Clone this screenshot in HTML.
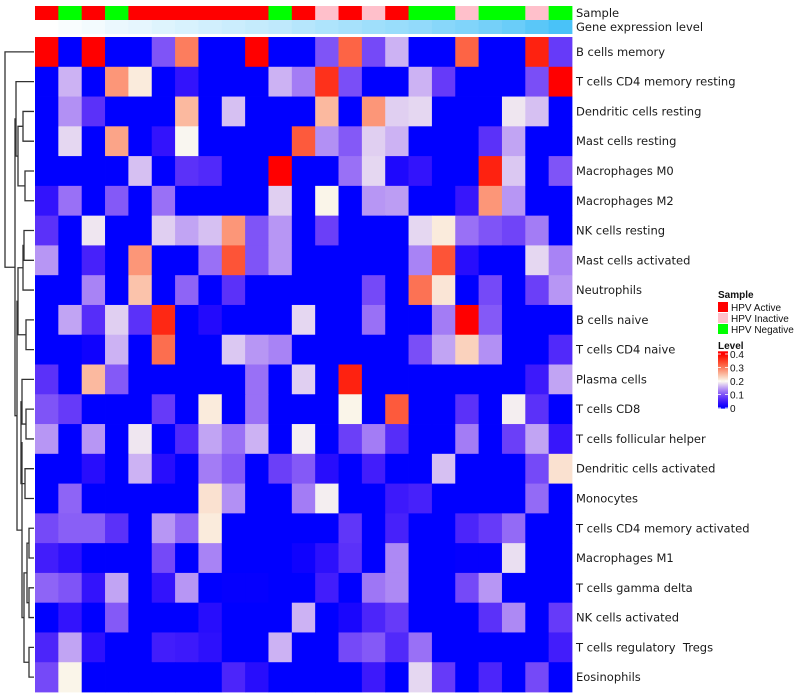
<!DOCTYPE html>
<html><head><meta charset="utf-8"><style>
body{margin:0;background:#fff;width:800px;height:700px;overflow:hidden}
svg{display:block}
.lbl{font-family:"DejaVu Sans","Liberation Sans",sans-serif;font-size:11.5px;fill:#1a1a1a;white-space:pre}
.lg{font-family:"Liberation Sans",sans-serif;font-size:10px;fill:#111}
</style></head><body>
<svg id="chart" width="800" height="700" xmlns="http://www.w3.org/2000/svg"></svg>
<script>
const rowNames=["B cells memory","T cells CD4 memory resting","Dendritic cells resting","Mast cells resting","Macrophages M0","Macrophages M2","NK cells resting","Mast cells activated","Neutrophils","B cells naive","T cells CD4 naive","Plasma cells","T cells CD8","T cells follicular helper","Dendritic cells activated","Monocytes","T cells CD4 memory activated","Macrophages M1","T cells gamma delta","NK cells activated","T cells regulatory  Tregs","Eosinophils"];
const sampleGroups=["A","N","A","N","A","A","A","A","A","A","N","A","I","A","I","A","N","N","I","N","N","I","N"];
const geneLevel=[0.0,0.03,0.06,0.1,0.13,0.17,0.2,0.24,0.27,0.3,0.33,0.38,0.42,0.46,0.5,0.53,0.57,0.62,0.66,0.72,0.78,0.86,0.95];
// cell values in units of 0.04 (0 = blue, 5 = white, 10 = red)
const r1=[10,0,10,0,0,2.5,7.5,0,0,10,0,0,2.5,8,2.3,4,0,0,8,0,0,9.3,2];
const r2=[0,4,0,7,5.3,0,1,0,0,0,4,3.2,9,2.4,0,0,4,2,0,0,0,2.4,10];
const r3=[0,3.5,1.8,0,0,0,6.3,0,4.2,0,0,0,6.3,0,7,4.4,4.5,0,0,0,4.7,4.2,0];
const r4=[0,4.5,0,6.7,0,1,4.9,0,0,0,0,8.2,3.5,2.6,4.4,4,0,0,0,1.8,3.8,0,0];
const r5=[0,0,0,0,4.2,0,1.8,1.6,0,0,10,0,0,3,4.5,0.6,1,0,0,9.3,4.3,0,2.5];
const r6=[1,3,0,2.6,0,3,0,0,0,0,4.4,0,5.1,0,3.6,3.7,0,0,1.1,7,3.6,0,0];
const r7=[1.8,0,4.7,0,0,4.4,3.8,4.2,7,2.5,3.6,0,2.1,0,0,0,4.5,5.3,3,2.5,2.2,3.2,0];
const r8=[3.6,0,1.4,0,7,0,0,3,8.3,2.5,3.6,0,0,0,0,0,3.3,8.3,0.8,0,0,4.5,3.3];
const r9=[0,0,3.3,0,6.1,0,2.8,0,1.8,0,0,0,0,0,2.3,0,7.7,5.4,0,2.3,0,2.1,3.6];
const r10=[0,3.8,1.7,4.4,1.8,9.2,0,0.7,0,0,0,4.5,0,0,3,0,0,3.2,10,2.6,0,0,0];
const r11=[0,0,0.3,4,0,7.8,0,0,4.3,3.6,3.3,0,0,0,0,0,2.4,3.8,5.8,3.5,0,0,1.6];
const r12=[1.8,0,6.3,2.6,0,0,0,0,0,3,0,4.4,0,9.3,0,0,0,0,0,0,0,1.2,3.8];
const r13=[2.5,2,0,0,0,2,0,5.3,0,3,0,0,0,5.1,0,8.2,0,0,1.8,0,4.8,1.8,0];
const r14=[3.6,0,3.6,0,4.7,0,1.6,3.8,3,4,0,4.8,0,2.1,3.2,1.7,0,0,3.2,0,2.1,3.8,1.1];
const r15=[0,0,0.8,0,4,0.8,0,3.2,2.6,0,2.1,2.6,0.8,0,1.3,0,0,4.2,0,0,0,2.3,5.5];
const r16=[0,2.8,0,0,0,0,0,5.5,3.5,0,0,3.2,4.8,0,0,1.2,1.4,0,0,0,0,2.9,0];
const r17=[2.3,2.7,2.7,1.8,0,3.6,2.8,5.3,0,0,0,0,0,1.9,0,1.4,0,0,1.5,2,2.9,0,0];
const r18=[1.3,0.9,0,0,0,2.3,0,3.3,0,0,0,0.3,0.9,1.8,0,3.4,0,0,0.1,0.1,4.6,0,0];
const r19=[2.8,2.5,1,3.8,0,1,3.6,0,0.1,0.1,0,0,1.3,0,3.1,3.4,0,0,2.3,3.6,0,0,0];
const r20=[0,1,0,2.6,0,0,0,0.8,0,0,0,4,0,0.5,1.5,2,0,0,0,1.8,3.4,0,2];
const r21=[1.5,3.8,0.9,0,0,1.3,1.2,0.9,0,0,4,0,0,2.3,2.6,1.6,3,0,0,0,0,0,1.3];
const r22=[2.3,5.1,0,0,0,0,0,0,1.5,0.8,0,0,0,0,1.2,0,4.5,2,0,1.5,0,2.3,0];
const values=[r1,r2,r3,r4,r5,r6,r7,r8,r9,r10,r11,r12,r13,r14,r15,r16,r17,r18,r19,r20,r21,r22];
const legendTicks=[0,0.1,0.2,0.3,0.4];
const sampleLegend=[["A","HPV Active"],["I","HPV Inactive"],["N","HPV Negative"]];

const NS="http://www.w3.org/2000/svg",svg=document.getElementById('chart');
function mk(t,a,p){const e=document.createElementNS(NS,t);for(const k in a)e.setAttribute(k,a[k]);(p||svg).appendChild(e);return e;}
const x0=35,x1=572,y0=37,y1=692,nc=23,nr=22,cw=(x1-x0)/nc,ch=(y1-y0)/nr;
const xS=i=>x0+i*cw, yS=j=>y0+j*ch;
function col(n){
  let r,g,b;
  if(n<=5){const t=n/5;r=255*t;g=255*Math.pow(t,1.6);b=255-15*t;}
  else{const t=(n-5)/5;r=255-5*(1-t);g=250*(1-t);b=240*Math.pow(1-t,1.35);}
  return `rgb(${r|0},${g|0},${b|0})`;
}
const sCol={A:"#ff0000",I:"#ffc0cb",N:"#00ff00"};
sampleGroups.forEach((s,i)=>{const e=mk('rect',{x:xS(i),y:6,width:cw+0.4,height:14,fill:sCol[s]});

});
geneLevel.forEach((g,i)=>{const r=255-(255-64)*g,gg=255-(255-191)*g,b=255-(255-248)*g;
const e=mk('rect',{x:xS(i),y:20,width:cw+0.4,height:14,fill:`rgb(${r|0},${gg|0},${b|0})`});

});
let t=mk('text',{x:576,y:17,class:'lbl','font-size':'12.5'});t.textContent="Sample";

t=mk('text',{x:576,y:31,class:'lbl','font-size':'12.5'});t.textContent="Gene expression level";

values.forEach((row,j)=>row.forEach((v,i)=>{
  const e=mk('rect',{x:xS(i),y:yS(j),width:cw+0.4,height:ch+0.4,fill:col(v)});
  
  
}));
rowNames.forEach((n,j)=>{const e=mk('text',{x:576,y:yS(j)+ch/2+4,class:'lbl'});e.textContent=n;
});
const tree=[0,[[1,[[2,3,23],[4,5,25],18],16],[[[[6,7,24],8,23],[9,10,26],18],[[[11,[12,13,26],22],[14,15,25],21],[[[16,17,29],[18,19,29],27],[20,21,29],24],22],17],15],5];
const dg=mk('g',{stroke:'#333','stroke-width':1.3,fill:'none'});

function draw(n){ if(typeof n==='number')return [yS(n)+ch/2,34];
  const a=draw(n[0]),b=draw(n[1]),h=n[2];
  mk('path',{d:`M${a[1]},${a[0]}H${h}V${b[0]}H${b[1]}`},dg);
  return [(a[0]+b[0])/2,h];}
draw(tree);
t=mk('text',{x:718,y:298,class:'lg','font-weight':'bold'});t.textContent="Sample";

sampleLegend.forEach((s,k)=>{const e=mk('rect',{x:718,y:302+k*11,width:10,height:10,fill:sCol[s[0]]});

const tt=mk('text',{x:731,y:311+k*11,class:'lg'});tt.textContent=s[1];
});
t=mk('text',{x:718,y:349,class:'lg','font-weight':'bold'});t.textContent="Level";

const lv=v=>408-v*135;
for(let k=0;k<58;k++){const v=0.42*k/58;const e=mk('rect',{x:718,y:lv(v+0.42/58),width:10,height:1.6,fill:col(v/0.04)});
}
legendTicks.forEach(v=>{mk('line',{x1:718,x2:721,y1:lv(v),y2:lv(v),stroke:'#fff','stroke-width':0.8});
mk('line',{x1:725,x2:728,y1:lv(v),y2:lv(v),stroke:'#fff','stroke-width':0.8});
const e=mk('text',{x:730,y:lv(v)+4,class:'lg'});e.textContent=String(v);
});
</script></body></html>
